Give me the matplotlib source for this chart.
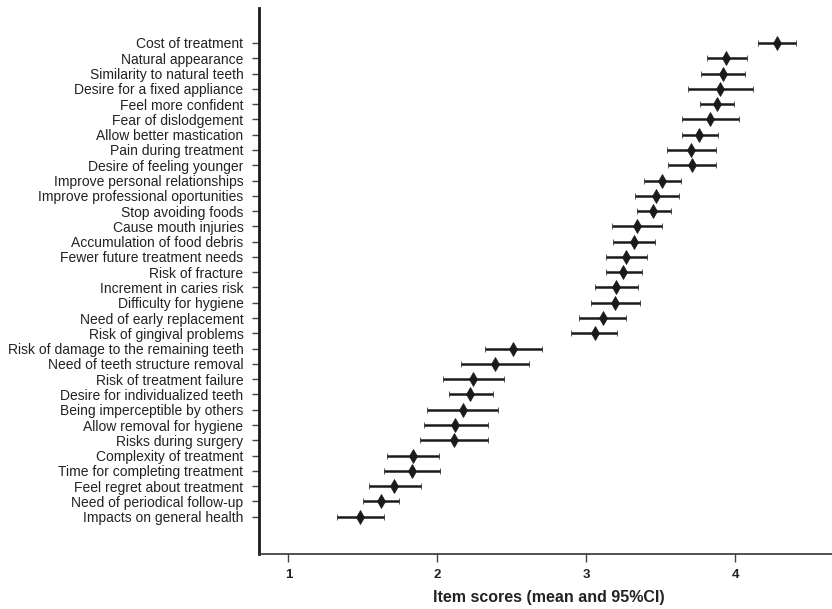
import matplotlib
matplotlib.use("Agg")
import matplotlib.pyplot as plt
import numpy as np

plt.rcParams["font.family"] = ["Liberation Sans", "DejaVu Sans"]

# items, top to bottom
items = [
    "Cost of treatment", "Natural appearance", "Similarity to natural teeth",
    "Desire for a fixed appliance", "Feel more confident", "Fear of dislodgement",
    "Allow better mastication", "Pain during treatment", "Desire of feeling younger",
    "Improve personal relationships", "Improve professional oportunities",
    "Stop avoiding foods", "Cause mouth injuries", "Accumulation of food debris",
    "Fewer future treatment needs", "Risk of fracture", "Increment in caries risk",
    "Difficulty for hygiene", "Need of early replacement", "Risk of gingival problems",
    "Risk of damage to the remaining teeth", "Need of teeth structure removal",
    "Risk of treatment failure", "Desire for individualized teeth",
    "Being imperceptible by others", "Allow removal for hygiene",
    "Risks during surgery", "Complexity of treatment", "Time for completing treatment",
    "Feel regret about treatment", "Need of periodical follow-up",
    "Impacts on general health",
]

means = [4.28, 3.94, 3.92, 3.90, 3.875, 3.83, 3.76, 3.70, 3.71, 3.51, 3.47,
         3.45, 3.34, 3.32, 3.27, 3.25, 3.20, 3.195, 3.11, 3.056, 2.51, 2.39,
         2.24, 2.22, 2.17, 2.12, 2.11, 1.835, 1.83, 1.71, 1.62, 1.48]
ci_low = [4.15, 3.81, 3.77, 3.68, 3.765, 3.64, 3.64, 3.54, 3.55, 3.385, 3.325,
          3.34, 3.17, 3.18, 3.13, 3.13, 3.06, 3.03, 2.95, 2.90, 2.32, 2.16,
          2.04, 2.08, 1.93, 1.91, 1.885, 1.66, 1.64, 1.54, 1.50, 1.325]
ci_high = [4.41, 4.08, 4.065, 4.12, 3.99, 4.025, 3.885, 3.87, 3.87, 3.635, 3.62,
           3.57, 3.51, 3.46, 3.41, 3.375, 3.35, 3.36, 3.27, 3.205, 2.70, 2.615,
           2.45, 2.375, 2.41, 2.34, 2.34, 2.01, 2.02, 1.89, 1.74, 1.64]

x_ticks = [1, 2, 3, 4]

means = np.array(means)
err = np.array([means - np.array(ci_low), np.array(ci_high) - means])
ypos = np.arange(len(items))

fig = plt.figure(figsize=(8.32, 6.09), dpi=100)
ax = fig.add_axes([0.311, 0.0903, 0.689, 0.8966])

ax.errorbar(means, ypos, xerr=err, fmt="d", color="#1a1a1a", ecolor="#1a1a1a",
            elinewidth=1.8, capsize=2.5, capthick=1.6, markersize=7.5,
            markeredgewidth=0.5)

ax.set_ylim(33.44, -2.29)
ax.set_xlim(0.801, 4.65)
ax.set_yticks(ypos)
ax.set_yticklabels(items, fontsize=10, color="#222222")
ax.set_xticks(x_ticks)
ax.set_xticklabels([str(t) for t in x_ticks], fontsize=9.5, fontweight="bold",
                   color="#222222")
xl = ax.set_xlabel("Item scores (mean and 95%CI)", fontsize=11.5,
                   fontweight="bold", color="#222222")
xl.set_va("center")
ax.xaxis.set_label_coords(0.506, -0.08)

for side in ["top", "right"]:
    ax.spines[side].set_visible(False)
ax.spines["left"].set_linewidth(2)
ax.spines["left"].set_color("#1a1a1a")
ax.spines["bottom"].set_linewidth(1.2)
ax.spines["bottom"].set_color("#333333")
ax.tick_params(axis="y", length=5, width=1, color="#444444", pad=6)
ax.tick_params(axis="x", length=6, width=1, color="#444444", pad=5)

fig.savefig("out.png", dpi=100)
